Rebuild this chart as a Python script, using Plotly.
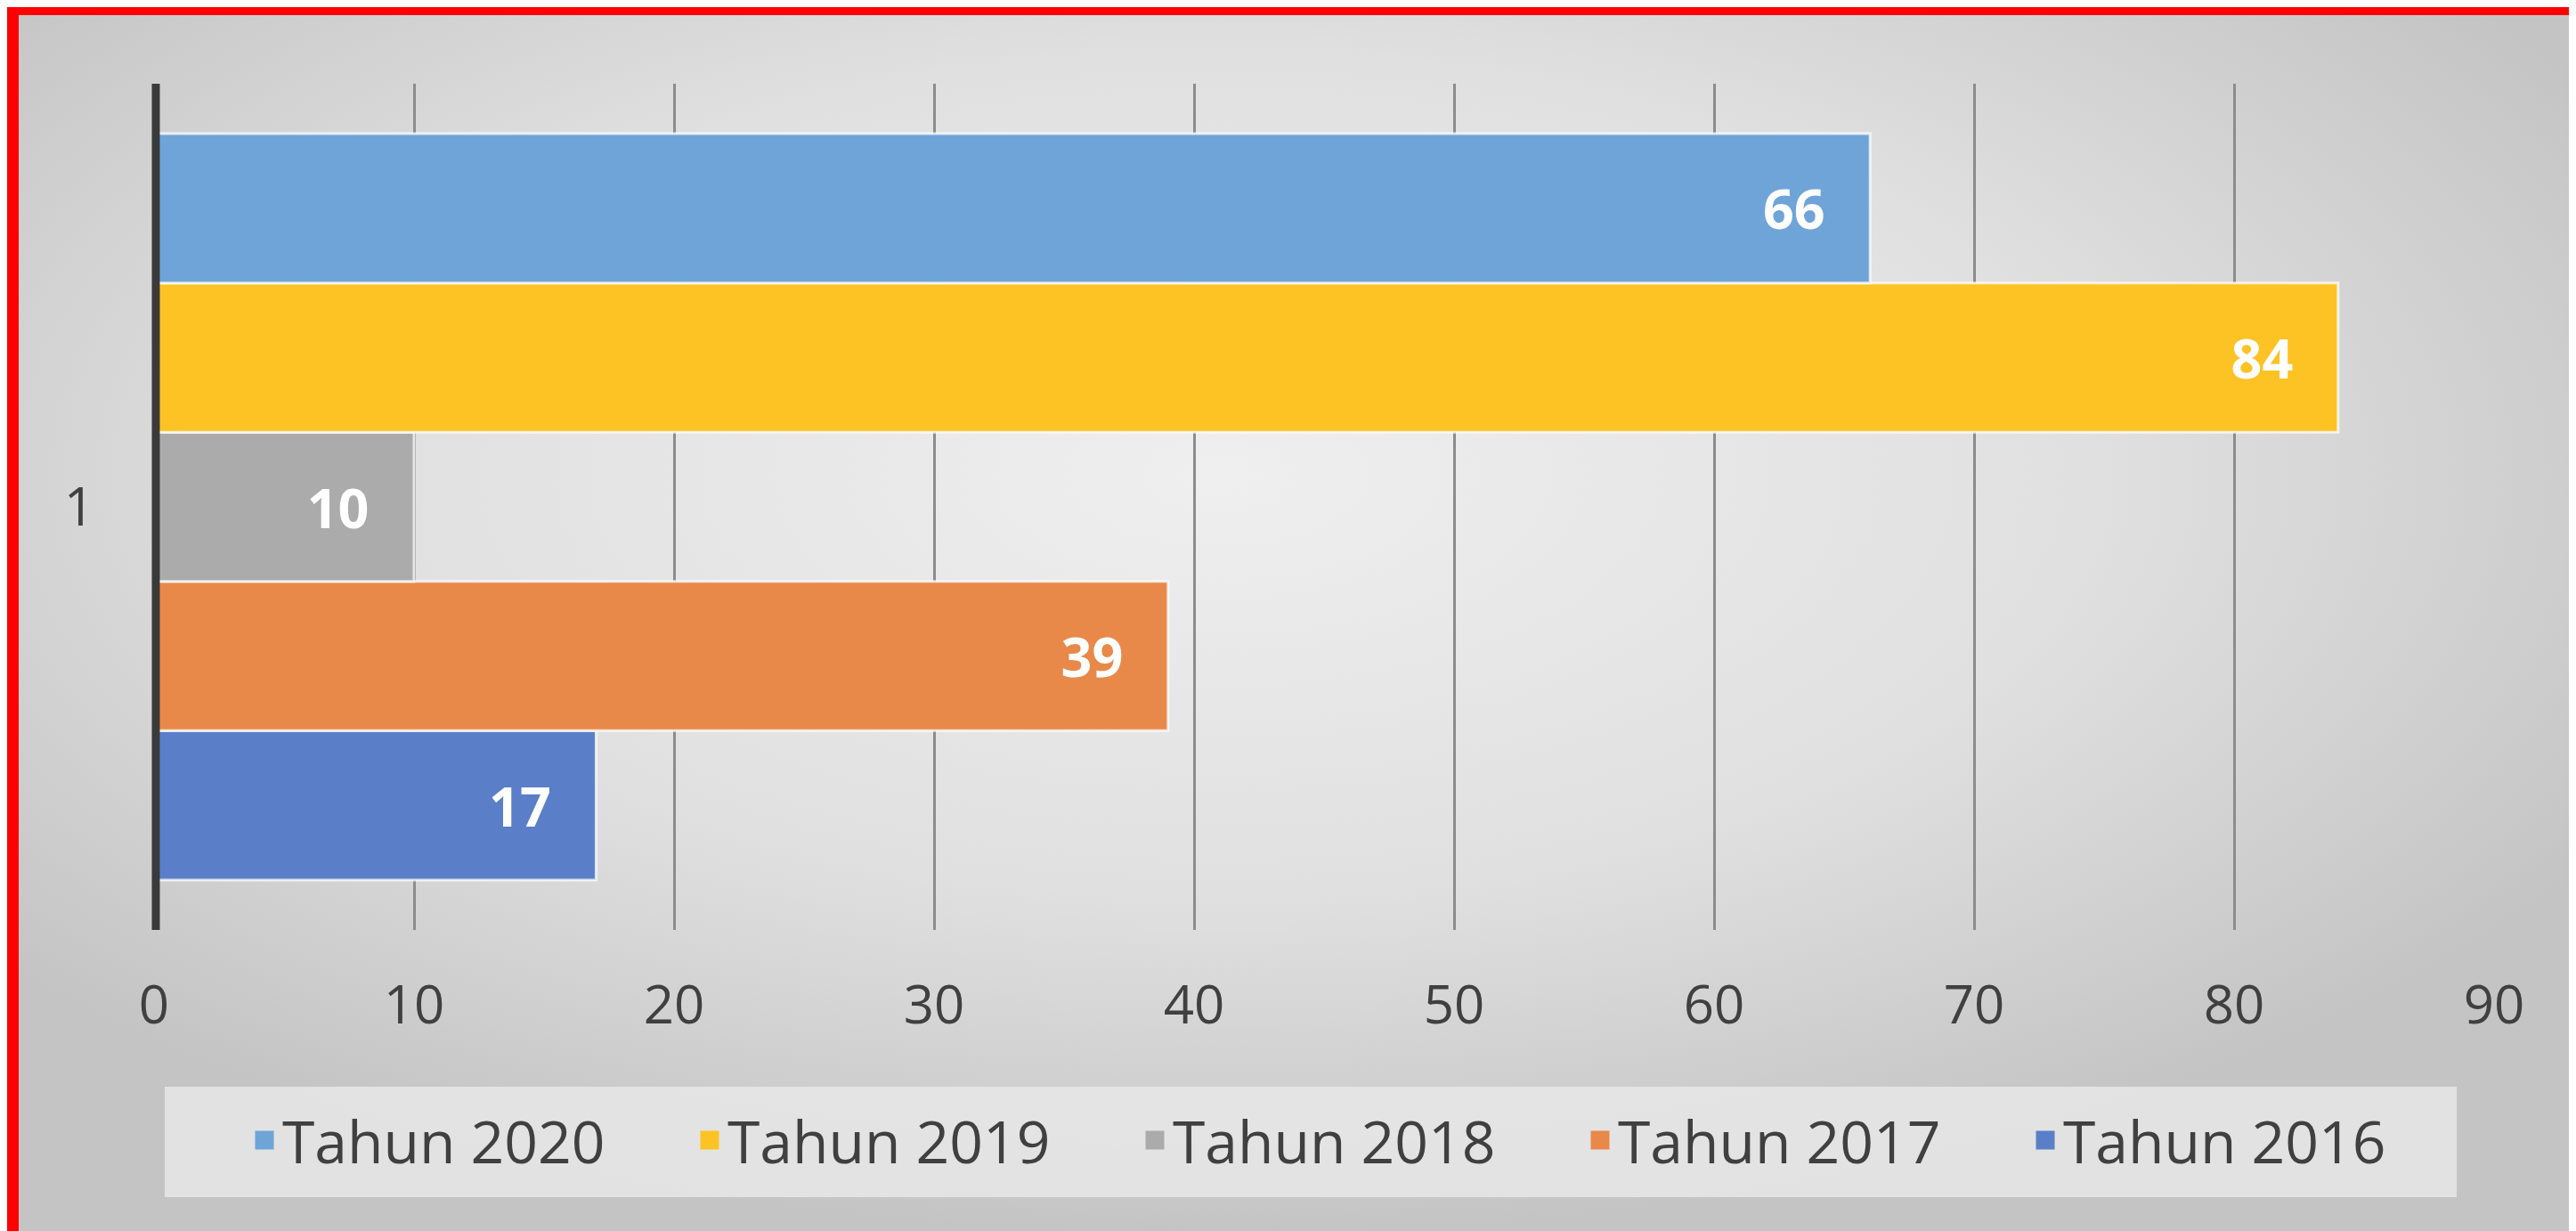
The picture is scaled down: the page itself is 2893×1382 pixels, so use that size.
import base64
import plotly.graph_objects as go

categories = ["1"]
series_names = ["Tahun 2016", "Tahun 2017", "Tahun 2018", "Tahun 2019", "Tahun 2020"]
series_values = [[17], [39], [10], [84], [66]]
series_colors = ["#5A7FC8", "#E8894A", "#ABABAB", "#FDC324", "#6FA4D8"]
x_ticks = [0, 10, 20, 30, 40, 50, 60, 70, 80, 90]

W, H = 2893, 1382
ML, MR, MT, MB = 165, 100, 86, 346
PW, PH = W - ML - MR, H - MT - MB

def px2x(px):
    return (px - ML) / PW

def py2y(py):
    return (H - MB - py) / PH

svg = f'''<svg xmlns="http://www.w3.org/2000/svg" width="{W}" height="{H}" viewBox="0 0 {W} {H}" preserveAspectRatio="none">
<defs><radialGradient id="g" cx="0.47" cy="0.38" r="0.62">
<stop offset="0" stop-color="#efefef"/><stop offset="0.55" stop-color="#e0e0e0"/><stop offset="1" stop-color="#c4c4c4"/>
</radialGradient></defs>
<rect x="0" y="0" width="{W}" height="{H}" fill="url(#g)"/>
</svg>'''
bg_uri = "data:image/svg+xml;base64," + base64.b64encode(svg.encode()).decode()

fig = go.Figure()
for name, vals, col in zip(series_names, series_values, series_colors):
    fig.add_trace(go.Bar(
        y=categories, x=vals, name=name, orientation="h", showlegend=False,
        marker=dict(color=col, line=dict(color="rgba(255,255,255,0.75)", width=3)),
        texttemplate="%{x}\u00a0\u00a0\u00a0", textposition="inside", insidetextanchor="end",
        constraintext="none",
        textfont=dict(family="Open Sans, Liberation Sans", size=61, color="white", weight="bold"),
    ))
# legend entries (square swatches)
for name, col in zip(series_names, series_colors):
    fig.add_trace(go.Scatter(
        x=[None], y=[None], name=name, mode="markers",
        marker=dict(symbol="square", color=col, size=16, line=dict(color=col, width=5)),
    ))

fig.update_layout(
    width=W, height=H,
    margin=dict(l=ML, r=MR, t=MT, b=MB, pad=0),
    paper_bgcolor="#dcdcdc", plot_bgcolor="rgba(0,0,0,0)",
    barmode="group", bargap=0.118, bargroupgap=0.0,
    font=dict(family="Open Sans, sans-serif", color="#404040"),
    showlegend=True,
    legend=dict(
        orientation="h", traceorder="reversed",
        x=px2x(269), xanchor="left", y=py2y(1272), yanchor="middle",
        bgcolor="rgba(0,0,0,0)", font=dict(size=66, color="#404040"),
        entrywidth=455, entrywidthmode="pixels", itemsizing="trace",
    ),
    images=[dict(
        source=bg_uri, xref="paper", yref="paper",
        x=px2x(0), y=py2y(0), sizex=W / PW, sizey=H / PH,
        xanchor="left", yanchor="top", sizing="stretch", layer="below",
    )],
    shapes=[
        dict(type="rect", xref="paper", yref="paper", layer="below",
             x0=px2x(177), x1=px2x(2751), y0=py2y(1336), y1=py2y(1212),
             fillcolor="rgba(232,232,232,0.85)", line=dict(width=0)),
        dict(type="line", xref="paper", yref="paper", layer="above",
             x0=px2x(ML + 2), x1=px2x(ML + 2), y0=0, y1=1,
             line=dict(color="#3a3a3a", width=9)),
        dict(type="rect", xref="paper", yref="paper", layer="above",
             x0=px2x(0), x1=px2x(13), y0=py2y(H), y1=py2y(0),
             fillcolor="#ff0000", line=dict(width=0)),
        dict(type="rect", xref="paper", yref="paper", layer="above",
             x0=px2x(0), x1=px2x(W), y0=py2y(9), y1=py2y(0),
             fillcolor="#ff0000", line=dict(width=0)),
    ],
)

fig.update_xaxes(
    range=[0, 90], tickvals=x_ticks, ticktext=[str(t) for t in x_ticks],
    showgrid=True, gridcolor="#8c8c8c", gridwidth=3, zeroline=False,
    showline=False, ticks="", ticklabelstandoff=44,
    tickfont=dict(size=60, color="#404040"),
)
fig.update_yaxes(
    showline=False, showgrid=False,
    ticks="", ticklabelstandoff=66, tickfont=dict(size=60, color="#404040"),
)

fig.write_html("out.html")
